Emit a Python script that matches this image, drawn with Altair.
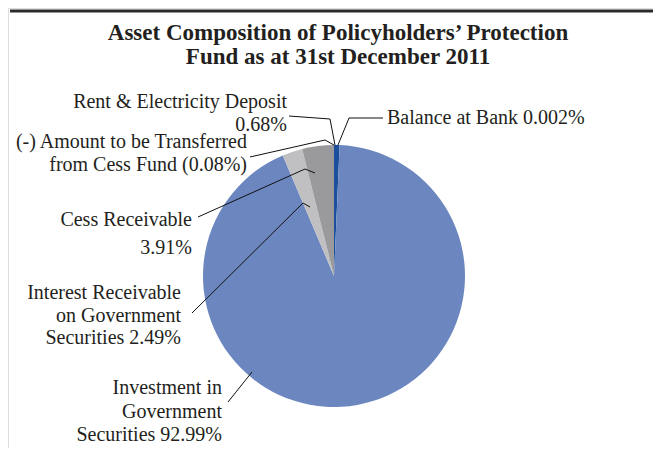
import altair as alt
import pandas as pd

# ---- data ----
categories = [
    "Balance at Bank",
    "Rent & Electricity Deposit",
    "Investment in Government Securities",
    "Interest Receivable on Government Securities",
    "Cess Receivable",
    "(-) Amount to be Transferred from Cess Fund",
]
values = [0.002, 0.68, 92.99, 2.49, 3.91, -0.08]
colors = ["#1B4F9C", "#1B4F9C", "#6C87BF", "#C0C0C2", "#9A9A9C", "#FFFFFF"]

title_lines = ["Asset Composition of Policyholders\u2019 Protection",
               "Fund as at 31st December 2011"]

# label text lines (one row per line)
label_text = [
    "Rent & Electricity Deposit", "0.68%",
    "(-) Amount to be Transferred", "from Cess Fund (0.08%)",
    "Cess Receivable", "3.91%",
    "Interest Receivable", "on Government", "Securities 2.49%",
    "Investment in", "Government", "Securities 92.99%",
    "Balance at Bank 0.002%",
]

# ---- layout (pixel positions in chart space) ----
CX, CY, R = 326, 268, 131
label_x = [279, 279, 239, 239, 184, 184, 173, 173, 173, 214, 214, 214, 379]
label_y = [94, 117, 134, 157, 212, 240, 285, 308, 330, 380, 404, 427, 110]
label_align = ["right"] * 12 + ["left"]

leader_name = (["bank"] * 3 + ["rent"] * 3 + ["amt"] * 3 + ["cess"] * 3
               + ["int"] * 3 + ["inv"] * 2)
leader_x = [375, 341, 330, 281, 322, 327, 242, 317, 326, 190, 297, 307,
            184, 295, 302, 220, 244]
leader_y = [110, 110, 137, 108, 111, 137, 149, 132, 137, 209, 161, 165,
            305, 195, 199, 394, 364]

# ---- tables ----
pie_df = pd.DataFrame({"category": categories, "value": values,
                       "color": colors, "idx": range(len(values))})
pie_df = pie_df[pie_df["value"] > 0]

lab_df = pd.DataFrame({"text": label_text, "x": label_x, "y": label_y,
                       "align": label_align})
lead_df = pd.DataFrame({"name": leader_name, "x": leader_x, "y": leader_y,
                        "k": range(len(leader_x))})
title_df = pd.DataFrame({"text": title_lines, "x": [330, 330], "y": [25, 49]})
rule_df = pd.DataFrame({"x": [2], "x2": [653], "y": [3]})

FONT = "Liberation Serif"
TXT = "#231F20"
FS = 20

X = alt.X("x:Q", scale=None, axis=None)
Y = alt.Y("y:Q", scale=None, axis=None)

pie = alt.Chart(pie_df).mark_arc(outerRadius=R, stroke=None).encode(
    theta=alt.Theta("value:Q", stack=True),
    order=alt.Order("idx:Q"),
    color=alt.Color("color:N", scale=None),
    x=alt.value(CX), y=alt.value(CY),
)

leaders = alt.Chart(lead_df).mark_line(color="#111111", strokeWidth=1).encode(
    x=X, y=Y, detail="name:N", order="k:Q",
)

labels_r = alt.Chart(lab_df[lab_df["align"] == "right"]).mark_text(
    align="right", baseline="middle", font=FONT, fontSize=FS, color=TXT
).encode(x=X, y=Y, text="text:N")

labels_l = alt.Chart(lab_df[lab_df["align"] == "left"]).mark_text(
    align="left", baseline="middle", font=FONT, fontSize=FS, color=TXT
).encode(x=X, y=Y, text="text:N")

titles = alt.Chart(title_df).mark_text(
    align="center", baseline="middle", font=FONT, fontSize=23,
    fontWeight="bold", color=TXT
).encode(x=X, y=Y, text="text:N")

top_rule = alt.Chart(rule_df).mark_rule(color="#2B2B2B", strokeWidth=3).encode(
    x=X, x2="x2:Q", y=Y
)

chart = alt.layer(top_rule, pie, leaders, labels_r, labels_l, titles).properties(
    width=645, height=440, autosize="none", padding=0
).configure_view(stroke=None, strokeWidth=0).configure(background="#FFFFFF")

chart.save("out.html", embed_options={"renderer": "svg", "actions": False})
